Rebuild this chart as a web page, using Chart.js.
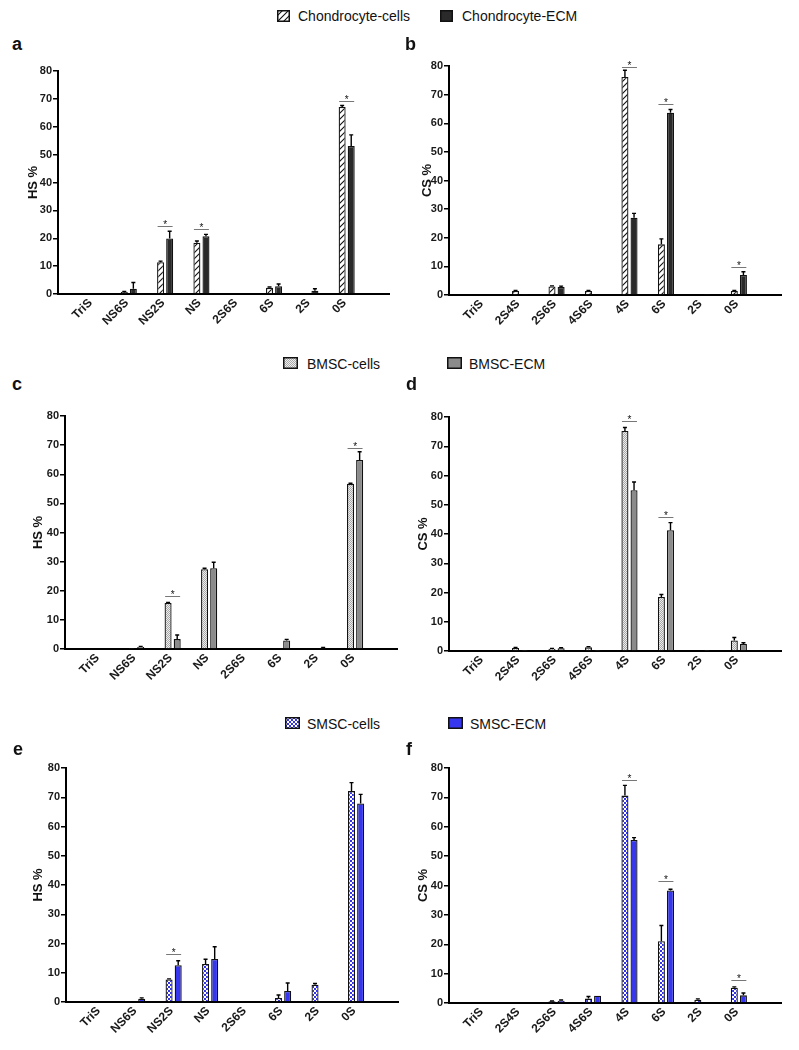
<!DOCTYPE html>
<html>
<head>
<meta charset="utf-8">
<script src="https://cdn.jsdelivr.net/npm/chart.js@4.4.1/dist/chart.umd.min.js"></script>
<style>
  body { margin: 0; background: #fff; }
  #page { position: relative; width: 799px; height: 1050px; overflow: hidden; font-family: "Liberation Sans", Arial, sans-serif; }
  #page canvas.panel { position: absolute; }
  .lg-box { position: absolute; }
  .lg-text { position: absolute; font-size: 14px; line-height: 14px; color: #111; white-space: nowrap; }
  .letter { position: absolute; font-size: 18px; line-height: 18px; font-weight: bold; color: #111; }
</style>
</head>
<body>
<div id="page">
  <canvas class="lg-box" id="sw-ch-cells" width="13" height="12" style="left:277px;top:10px"></canvas>
  <div class="lg-text" style="left:298px;top:9px">Chondrocyte-cells</div>
  <canvas class="lg-box" id="sw-ch-ecm" width="13" height="12" style="left:440px;top:10px"></canvas>
  <div class="lg-text" style="left:462px;top:9px">Chondrocyte-ECM</div>

  <canvas class="lg-box" id="sw-bm-cells" width="15" height="12" style="left:283px;top:357px"></canvas>
  <div class="lg-text" style="left:307px;top:357px">BMSC-cells</div>
  <canvas class="lg-box" id="sw-bm-ecm" width="15" height="12" style="left:447px;top:357px"></canvas>
  <div class="lg-text" style="left:469px;top:357px">BMSC-ECM</div>

  <canvas class="lg-box" id="sw-sm-cells" width="15" height="12" style="left:285px;top:717px"></canvas>
  <div class="lg-text" style="left:307px;top:717px">SMSC-cells</div>
  <canvas class="lg-box" id="sw-sm-ecm" width="15" height="12" style="left:448px;top:717px"></canvas>
  <div class="lg-text" style="left:470px;top:717px">SMSC-ECM</div>

  <div class="letter" style="left:12px;top:35px">a</div>
  <div class="letter" style="left:405px;top:35px">b</div>
  <div class="letter" style="left:12px;top:375px">c</div>
  <div class="letter" style="left:406px;top:375px">d</div>
  <div class="letter" style="left:13px;top:740px">e</div>
  <div class="letter" style="left:406px;top:740px">f</div>
</div>
<script>
// categories
const hsCats = ['TriS', 'NS6S', 'NS2S', 'NS', '2S6S', '6S', '2S', '0S'];
const csCats = ['TriS', '2S4S', '2S6S', '4S6S', '4S', '6S', '2S', '0S'];

// a - chondrocyte HS
const chHsCells    = [0, 0.7, 11.4, 18.4, 0, 2.2, 0, 67.1];
const chHsCellsErr = [0, 0.2, 0.4, 0.6, 0, 0.3, 0, 0.5];
const chHsEcm      = [0, 1.9, 19.9, 20.7, 0, 2.8, 1.2, 53.1];
const chHsEcmErr   = [0, 2.2, 2.6, 0.7, 0, 0.8, 0.7, 4.0];
const chHsSigCats  = ['NS2S', 'NS', '0S'];
const chHsSigY     = [24.5, 23.2, 69.4];

// b - chondrocyte CS
const chCsCells    = [0, 1.4, 3.0, 1.4, 76.2, 17.7, 0, 1.4];
const chCsCellsErr = [0, 0.2, 0.2, 0.2, 2.3, 1.9, 0, 0.2];
const chCsEcm      = [0, 0.1, 2.8, 0.3, 27.0, 63.7, 0.1, 7.0];
const chCsEcmErr   = [0, 0, 0.3, 0, 1.5, 1.1, 0, 1.1];
const chCsSigCats  = ['4S', '6S', '0S'];
const chCsSigY     = [79.7, 66.6, 9.8];

// c - BMSC HS
const bmHsCells    = [0, 0.35, 15.8, 27.4, 0, 0, 0, 56.7];
const bmHsCellsErr = [0, 0, 0.2, 0.3, 0, 0, 0, 0.2];
const bmHsEcm      = [0, 0.7, 3.4, 27.7, 0, 2.9, 0.4, 64.9];
const bmHsEcmErr   = [0, 0.2, 1.4, 2.1, 0, 0.4, 0.1, 2.8];
const bmHsSigCats  = ['NS2S', '0S'];
const bmHsSigY     = [18.3, 69.1];

// d - BMSC CS
const bmCsCells    = [0, 1.0, 0.8, 1.25, 75.2, 18.5, 0, 3.6];
const bmCsCellsErr = [0, 0.25, 0.1, 0.25, 1.2, 0.8, 0, 1.0];
const bmCsEcm      = [0, 0.1, 0.9, 0.1, 55.0, 41.3, 0.1, 2.4];
const bmCsEcmErr   = [0, 0, 0.2, 0, 2.8, 2.6, 0, 0.4];
const bmCsSigCats  = ['4S', '6S'];
const bmCsSigY     = [78.7, 45.7];

// e - SMSC HS
const smHsCells    = [0, 0.2, 7.7, 13.0, 0, 1.4, 5.9, 72.1];
const smHsCellsErr = [0, 0, 0.2, 1.6, 0, 1.0, 0.4, 2.9];
const smHsEcm      = [0, 1.1, 12.6, 14.7, 0, 3.8, 0.2, 67.9];
const smHsEcmErr   = [0, 0.3, 1.5, 4.2, 0, 2.7, 0, 3.1];
const smHsSigCats  = ['NS2S'];
const smHsSigY     = [16.3];

// f - SMSC CS
const smCsCells    = [0, 0, 0.6, 1.5, 70.6, 21.0, 1.1, 5.2];
const smCsCellsErr = [0, 0, 0.1, 0.7, 3.5, 5.4, 0.3, 0.3];
const smCsEcm      = [0, 0, 0.8, 2.5, 55.5, 38.3, 0, 2.6];
const smCsEcmErr   = [0, 0, 0.2, 0, 0.8, 0.4, 0, 0.8];
const smCsSigCats  = ['4S', '6S', '0S'];
const smCsSigY     = [75.9, 41.5, 8.0];

const yTicks = [0, 10, 20, 30, 40, 50, 60, 70, 80];

const FONT = '"Liberation Sans", Arial, sans-serif';

// fill patterns
function makeTile(size, draw) {
    const c = document.createElement('canvas');
    c.width = size; c.height = size;
    const g = c.getContext('2d');
    draw(g);
    return g.createPattern(c, 'repeat');
}

const hatch = makeTile(6, g => {
    g.fillStyle = '#fff'; g.fillRect(0, 0, 6, 6);
    g.strokeStyle = '#111'; g.lineWidth = 1.1;
    g.beginPath();
    g.moveTo(0, 6); g.lineTo(6, 0);
    g.moveTo(-1, 1); g.lineTo(1, -1);
    g.moveTo(5, 7); g.lineTo(7, 5);
    g.stroke();
});
const stipple = makeTile(2, g => {
    g.fillStyle = '#eeeeee'; g.fillRect(0, 0, 2, 2);
    g.fillStyle = '#a8a8a8'; g.fillRect(0, 0, 1, 1); g.fillRect(1, 1, 1, 1);
});
const checker = makeTile(4, g => {
    g.fillStyle = '#fff'; g.fillRect(0, 0, 4, 4);
    g.fillStyle = '#3434e6'; g.fillRect(0, 0, 2, 2); g.fillRect(2, 2, 2, 2);
});

const colors = {
    chCells: hatch, chEcm: '#2a2a2a',
    bmCells: stipple, bmEcm: '#8b8b8b',
    smCells: checker, smEcm: '#3636ee'
};

function swatch(id, fill) {
    const c = document.getElementById(id);
    const g = c.getContext('2d');
    g.fillStyle = fill; g.fillRect(0, 0, c.width, c.height);
    g.strokeStyle = '#111'; g.lineWidth = 1.5;
    g.strokeRect(0.75, 0.75, c.width - 1.5, c.height - 1.5);
}
swatch('sw-ch-cells', colors.chCells);
swatch('sw-ch-ecm', colors.chEcm);
swatch('sw-bm-cells', colors.bmCells);
swatch('sw-bm-ecm', colors.bmEcm);
swatch('sw-sm-cells', colors.smCells);
swatch('sw-sm-ecm', colors.smEcm);

const X_MIN = -0.38, X_MAX = 7.6;

const errorBars = {
    id: 'errorBars',
    afterDatasetsDraw(chart) {
        const ctx = chart.ctx;
        const y = chart.scales.y;
        chart.data.datasets.forEach((ds, di) => {
            chart.getDatasetMeta(di).data.forEach((bar, i) => {
                const e = ds.errors[i];
                if (!e) return;
                const top = y.getPixelForValue(ds.data[i].y + e);
                ctx.save();
                ctx.strokeStyle = '#000';
                ctx.lineWidth = 1.4;
                ctx.beginPath();
                ctx.moveTo(bar.x, bar.y);
                ctx.lineTo(bar.x, top);
                ctx.moveTo(bar.x - 2, top);
                ctx.lineTo(bar.x + 2, top);
                ctx.stroke();
                ctx.restore();
            });
        });
    }
};

function sigMarks(cats, sigCats, sigY) {
    return {
        id: 'sigMarks',
        afterDatasetsDraw(chart) {
            const ctx = chart.ctx;
            const x = chart.scales.x, y = chart.scales.y;
            sigCats.forEach((c, k) => {
                const cx = x.getPixelForValue(cats.indexOf(c));
                const py = Math.round(y.getPixelForValue(sigY[k])) + 0.5;
                ctx.save();
                ctx.strokeStyle = '#777';
                ctx.lineWidth = 1;
                ctx.beginPath();
                ctx.moveTo(cx - 7.5, py);
                ctx.lineTo(cx + 7.5, py);
                ctx.stroke();
                ctx.fillStyle = '#111';
                ctx.font = '10px ' + FONT;
                ctx.textAlign = 'center';
                ctx.textBaseline = 'alphabetic';
                ctx.fillText('*', cx, py + 1);
                ctx.restore();
            });
        }
    };
}

function makePanel(p) {
    const page = document.getElementById('page');
    const cv = document.createElement('canvas');
    cv.className = 'panel';
    const canvasTop = p.top - 14;
    const height = p.bottom - p.top + 14 + 44;
    cv.width = p.width;
    cv.height = height;
    cv.style.left = p.left + 'px';
    cv.style.top = canvasTop + 'px';
    page.insertBefore(cv, page.firstChild);

    const plotW = (X_MAX - X_MIN) * p.step;
    const rightPad = p.width - (p.axisX - p.left) - plotW;
    const toPts = arr => arr.map((v, i) => ({ x: i, y: v }));

    new Chart(cv.getContext('2d'), {
        type: 'bar',
        data: {
            datasets: [
                { data: toPts(p.cells), errors: p.cellsErr, backgroundColor: p.cellsFill,
                  borderColor: '#111', borderWidth: 1.3, categoryPercentage: 0.5, barPercentage: 0.77 },
                { data: toPts(p.ecm), errors: p.ecmErr, backgroundColor: p.ecmFill,
                  borderColor: '#111', borderWidth: 1.3, categoryPercentage: 0.5, barPercentage: 0.77 }
            ]
        },
        options: {
            responsive: false,
            animation: false,
            devicePixelRatio: 1,
            layout: { padding: { top: 14, left: 0, right: rightPad, bottom: 0 } },
            plugins: { legend: { display: false }, tooltip: { enabled: false } },
            scales: {
                x: {
                    type: 'linear',
                    min: X_MIN,
                    max: X_MAX,
                    afterBuildTicks: s => { s.ticks = p.cats.map((c, i) => ({ value: i })); },
                    afterFit: s => { s.height = 44; },
                    grid: { display: false, drawTicks: false },
                    border: { color: '#000', width: 2 },
                    ticks: {
                        autoSkip: false,
                        minRotation: 45,
                        maxRotation: 45,
                        padding: 2,
                        labelOffset: -2,
                        color: '#1a1a1a',
                        font: { family: FONT, size: 12, weight: 'bold' },
                        callback: v => p.cats[v]
                    }
                },
                y: {
                    min: 0,
                    max: 80,
                    afterBuildTicks: s => { s.ticks = yTicks.map(v => ({ value: v })); },
                    afterFit: s => { s.width = p.axisX - p.left; },
                    grid: { drawOnChartArea: false, tickLength: 5, color: '#000', lineWidth: 1.5 },
                    border: { color: '#000', width: 2 },
                    ticks: {
                        padding: 1,
                        color: '#1a1a1a',
                        font: { family: FONT, size: 11, weight: 'bold' }
                    },
                    title: {
                        display: true,
                        text: p.yTitle,
                        color: '#111',
                        font: { family: FONT, size: 13, weight: 'bold' },
                        padding: { top: p.titleX - p.left - 7.8, bottom: 0 }
                    }
                }
            }
        },
        plugins: [errorBars, sigMarks(p.cats, p.sigCats, p.sigY)]
    });
}

makePanel({ left: 0, width: 400, axisX: 58, top: 71, bottom: 294, step: 41.5, titleX: 33, yTitle: 'HS %',
    cats: hsCats, cells: chHsCells, cellsErr: chHsCellsErr, ecm: chHsEcm, ecmErr: chHsEcmErr,
    sigCats: chHsSigCats, sigY: chHsSigY, cellsFill: colors.chCells, ecmFill: colors.chEcm });
makePanel({ left: 400, width: 399, axisX: 449, top: 66, bottom: 295, step: 41.67, titleX: 427, yTitle: 'CS %',
    cats: csCats, cells: chCsCells, cellsErr: chCsCellsErr, ecm: chCsEcm, ecmErr: chCsEcmErr,
    sigCats: chCsSigCats, sigY: chCsSigY, cellsFill: colors.chCells, ecmFill: colors.chEcm });
makePanel({ left: 0, width: 400, axisX: 65, top: 416, bottom: 649, step: 41.7, titleX: 38, yTitle: 'HS %',
    cats: hsCats, cells: bmHsCells, cellsErr: bmHsCellsErr, ecm: bmHsEcm, ecmErr: bmHsEcmErr,
    sigCats: bmHsSigCats, sigY: bmHsSigY, cellsFill: colors.bmCells, ecmFill: colors.bmEcm });
makePanel({ left: 400, width: 399, axisX: 449, top: 417, bottom: 651, step: 41.67, titleX: 423, yTitle: 'CS %',
    cats: csCats, cells: bmCsCells, cellsErr: bmCsCellsErr, ecm: bmCsEcm, ecmErr: bmCsEcmErr,
    sigCats: bmCsSigCats, sigY: bmCsSigY, cellsFill: colors.bmCells, ecmFill: colors.bmEcm });
makePanel({ left: 0, width: 400, axisX: 66, top: 768, bottom: 1002, step: 41.7, titleX: 38, yTitle: 'HS %',
    cats: hsCats, cells: smHsCells, cellsErr: smHsCellsErr, ecm: smHsEcm, ecmErr: smHsEcmErr,
    sigCats: smHsSigCats, sigY: smHsSigY, cellsFill: colors.smCells, ecmFill: colors.smEcm });
makePanel({ left: 400, width: 399, axisX: 449, top: 768, bottom: 1003, step: 41.67, titleX: 423, yTitle: 'CS %',
    cats: csCats, cells: smCsCells, cellsErr: smCsCellsErr, ecm: smCsEcm, ecmErr: smCsEcmErr,
    sigCats: smCsSigCats, sigY: smCsSigY, cellsFill: colors.smCells, ecmFill: colors.smEcm });
</script>
</body>
</html>
